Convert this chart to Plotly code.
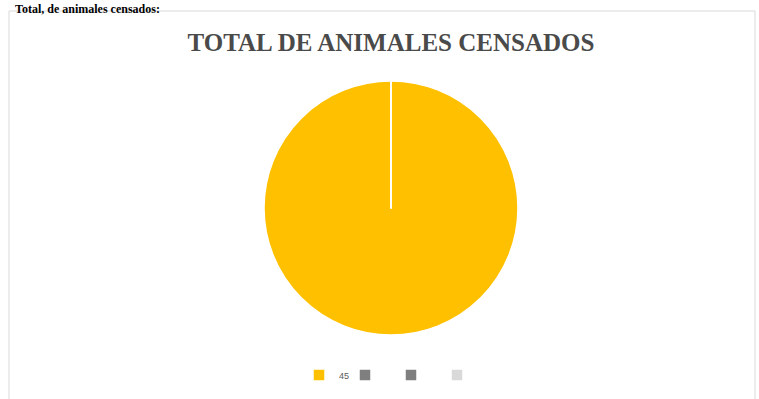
import plotly.graph_objects as go

labels = ["45", " ", "  ", "   "]
values = [45, 0, 0, 0]
colors = ["#FFC000", "#7F7F7F", "#7F7F7F", "#D9D9D9"]

W, H = 759, 399
cx, cy, r = 391, 208, 127

fig = go.Figure(go.Pie(
    labels=labels, values=values, sort=False, direction="clockwise", rotation=0,
    marker=dict(colors=colors, line=dict(color="#FFFFFF", width=1.5)),
    textinfo="none", hoverinfo="skip",
    domain=dict(x=[(cx - r) / W, (cx + r) / W], y=[1 - (cy + r) / H, 1 - (cy - r) / H]),
))

fig.update_layout(
    width=W, height=H, margin=dict(l=0, r=0, t=0, b=0),
    paper_bgcolor="white", plot_bgcolor="white",
    title=dict(text="<b>TOTAL DE ANIMALES CENSADOS</b>", x=391 / W, xanchor="center",
               y=1 - 42 / H, yanchor="middle",
               font=dict(family="Liberation Serif", size=25, color="#4A4A4A")),
    legend=dict(orientation="h", x=391 / W, xanchor="center", y=1 - 375 / H, yanchor="middle",
                font=dict(family="Liberation Sans", size=9, color="#595959"),
                itemwidth=30, entrywidth=1, entrywidthmode="pixels",
                bgcolor="rgba(0,0,0,0)"),
    shapes=[dict(type="rect", xref="paper", yref="paper",
                 x0=9 / W, x1=755 / W, y0=-0.02, y1=1 - 11 / H,
                 line=dict(color="#D9D9D9", width=1))],
    annotations=[dict(text="<b>Total, de animales censados:</b>", xref="paper", yref="paper",
                      x=13 / W, y=1.0, xanchor="left", yanchor="top", showarrow=False,
                      font=dict(family="Liberation Serif", size=12, color="#000000"))],
)

fig.write_html("out.html", config={"displayModeBar": False},
               post_script="document.body.style.margin='0';")
